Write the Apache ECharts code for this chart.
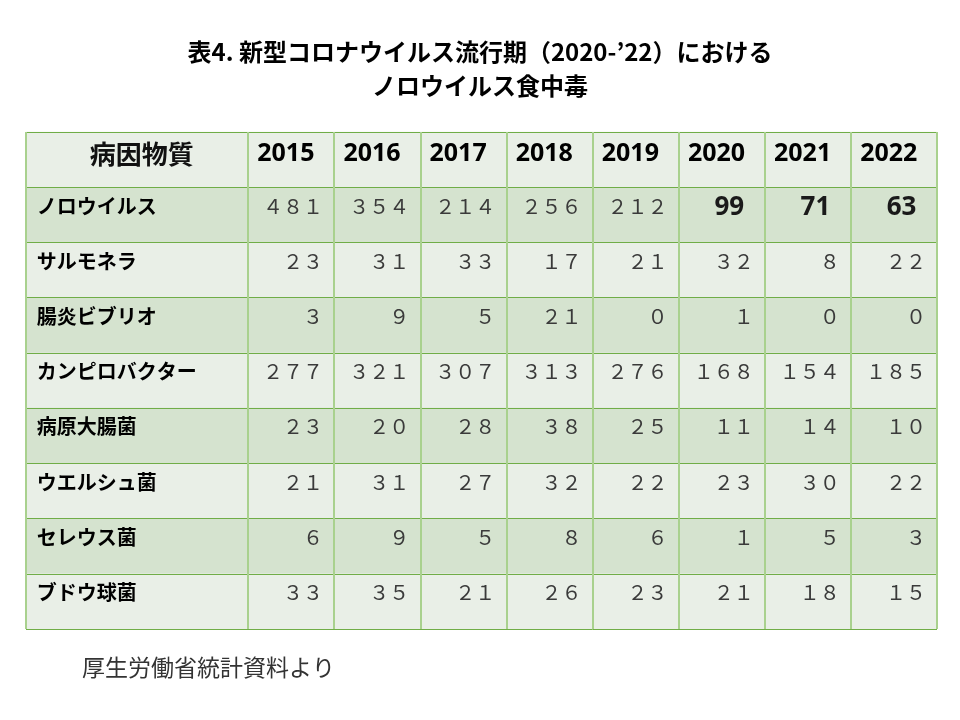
<!DOCTYPE html>
<html>
<head>
<meta charset="utf-8">
<script src="https://cdn.jsdelivr.net/npm/echarts@6/dist/echarts.min.js"></script>
<style>
  html, body { margin: 0; padding: 0; background: #fff; }
  #mainChart { width: 960px; height: 720px; }
</style>
</head>
<body>
<div id="mainChart"></div>
<script>
// 表4 data (厚生労働省統計)
var headerName = '病因物質';
var years = ['2015', '2016', '2017', '2018', '2019', '2020', '2021', '2022'];
var agents = ['ノロウイルス', 'サルモネラ', '腸炎ビブリオ', 'カンピロバクター', '病原大腸菌', 'ウエルシュ菌', 'セレウス菌', 'ブドウ球菌'];

var norovirus     = [481, 354, 214, 256, 212, 99, 71, 63];
var salmonella    = [23, 31, 33, 17, 21, 32, 8, 22];
var vibrio        = [3, 9, 5, 21, 0, 1, 0, 0];
var campylobacter = [277, 321, 307, 313, 276, 168, 154, 185];
var ecoli         = [23, 20, 28, 38, 25, 11, 14, 10];
var perfringens   = [21, 31, 27, 32, 22, 23, 30, 22];
var cereus        = [6, 9, 5, 8, 6, 1, 5, 3];
var staph         = [33, 35, 21, 26, 23, 21, 18, 15];

var rows = [norovirus, salmonella, vibrio, campylobacter, ecoli, perfringens, cereus, staph];
var highlightYears = ['2020', '2021', '2022']; // ノロウイルス in bold

var CJK = 'Noto Sans CJK JP';
var lightBg = '#E9EFE7';
var darkBg = '#D5E3CF';

function fullWidth(v) {
    return String(v).replace(/[0-9]/g, function (d) {
        return String.fromCharCode(d.charCodeAt(0) + 0xFEE0);
    });
}

var rowCats = [headerName].concat(agents);

// left column: header + agent names
var nameCells = [{
    value: [0, 0, 0],
    itemStyle: {color: lightBg},
    label: {
        formatter: headerName, position: [116, 22], align: 'center', verticalAlign: 'middle',
        fontFamily: CJK, fontSize: 26, fontWeight: 'bold', color: '#111'
    }
}];
for (var r = 0; r < agents.length; r++) {
    nameCells.push({
        value: [0, r + 1, 0],
        itemStyle: {color: r % 2 === 0 ? darkBg : lightBg},
        label: {
            formatter: agents[r], position: [11, 19], align: 'left', verticalAlign: 'middle',
            fontFamily: CJK, fontSize: 20, fontWeight: 'bold', color: '#000'
        }
    });
}

// year columns
var valueCells = [];
for (var c = 0; c < years.length; c++) {
    valueCells.push({
        value: [c, 0, 0],
        itemStyle: {color: lightBg},
        label: {
            formatter: years[c], position: ['44%', 22], align: 'center', verticalAlign: 'middle',
            fontFamily: 'Noto Sans', fontSize: 25, fontWeight: 'bold', color: '#000'
        }
    });
}
for (var r = 0; r < rows.length; r++) {
    for (var c = 0; c < years.length; c++) {
        var v = rows[r][c];
        var bold = r === 0 && highlightYears.indexOf(years[c]) >= 0;
        valueCells.push({
            value: [c, r + 1, v],
            itemStyle: {color: r % 2 === 0 ? darkBg : lightBg},
            label: bold ? {
                formatter: String(v), position: ['76%', 21], align: 'right', verticalAlign: 'middle',
                fontFamily: 'Noto Sans', fontSize: 26, fontWeight: 'bold', color: '#1a1a1a'
            } : {
                formatter: fullWidth(v), position: ['87%', 19], align: 'right', verticalAlign: 'middle',
                fontFamily: CJK, fontSize: 20, fontWeight: 'normal', color: '#3a3a3a'
            }
        });
    }
}

var vLine = {show: true, lineStyle: {color: '#A9D18E', width: 2}};
var hLine = {show: true, lineStyle: {color: '#70AD47', width: 1}};

function xAxisFor(idx, data) {
    return {
        gridIndex: idx, type: 'category', data: data, z: 5,
        axisLabel: {show: false}, axisTick: {show: false}, axisLine: {show: false},
        splitLine: vLine
    };
}
function yAxisFor(idx) {
    return {
        gridIndex: idx, type: 'category', data: rowCats, inverse: true, z: 5,
        axisLabel: {show: false}, axisTick: {show: false}, axisLine: {show: false},
        splitLine: hLine
    };
}

var myChart = echarts.init(document.getElementById('mainChart'));
myChart.setOption({
    backgroundColor: '#fff',
    animation: false,
    title: [{
        text: '表4. 新型コロナウイルス流行期（2020-’22）における\nノロウイルス食中毒',
        left: 'center',
        top: 30,
        textStyle: {fontFamily: CJK, fontSize: 24, fontWeight: 'bold', color: '#000', lineHeight: 34, align: 'center'}
    }, {
        text: '厚生労働省統計資料より',
        left: 77,
        top: 647,
        textStyle: {fontFamily: CJK, fontSize: 23, fontWeight: 'normal', color: '#333', lineHeight: 30}
    }],
    tooltip: {show: false},
    grid: [
        {left: 26, top: 132, width: 222, height: 497},
        {left: 248, top: 132, width: 689, height: 497}
    ],
    xAxis: [xAxisFor(0, [headerName]), xAxisFor(1, years)],
    yAxis: [yAxisFor(0), yAxisFor(1)],
    series: [{
        type: 'heatmap',
        xAxisIndex: 0, yAxisIndex: 0,
        label: {show: true},
        itemStyle: {borderWidth: 0},
        emphasis: {disabled: true},
        data: nameCells
    }, {
        type: 'heatmap',
        xAxisIndex: 1, yAxisIndex: 1,
        label: {show: true},
        itemStyle: {borderWidth: 0},
        emphasis: {disabled: true},
        data: valueCells
    }]
});
</script>
</body>
</html>
